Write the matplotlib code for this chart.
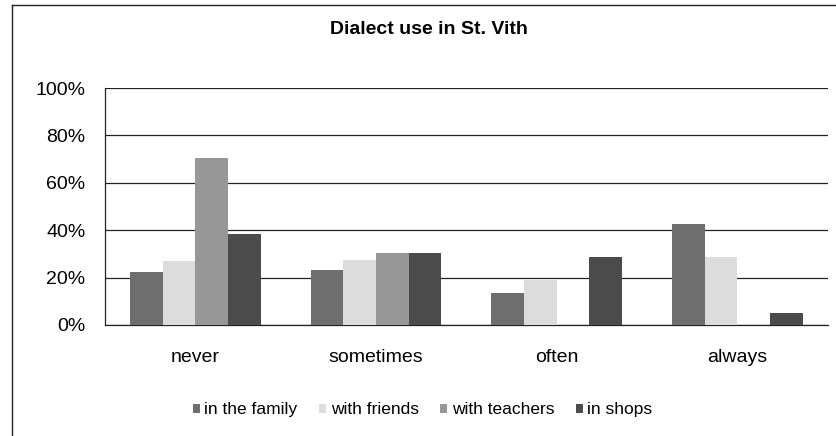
import numpy as np
import matplotlib
matplotlib.use('Agg')
import matplotlib.pyplot as plt
from matplotlib.lines import Line2D

plt.rcParams['font.family'] = ['Liberation Sans', 'DejaVu Sans']

# Values (percent)
categories = ['never', 'sometimes', 'often', 'always']
series_names = ['in the family', 'with friends', 'with teachers', 'in shops']
in_the_family = [22.4, 23.4, 13.6, 42.8]
with_friends = [26.9, 27.3, 18.9, 28.5]
with_teachers = [70.4, 30.2, 0, 0]
in_shops = [38.3, 30.3, 28.5, 4.9]
yticks = [0, 20, 40, 60, 80, 100]
ytick_labels = ['0%', '20%', '40%', '60%', '80%', '100%']

colors = ['#6e6e6e', '#dcdcdc', '#979797', '#4b4b4b']

fig = plt.figure(figsize=(8.37, 4.36), dpi=100)
ax = fig.add_axes([0.1254, 0.2546, 0.989 - 0.1254, 0.798 - 0.2546])

x = np.arange(len(categories))
width = 0.181
all_series = [in_the_family, with_friends, with_teachers, in_shops]
for i, vals in enumerate(all_series):
	ax.bar(x + (i - 1.5) * width, vals, width, color=colors[i], label=series_names[i],
		   zorder=3, edgecolor='none')

ax.set_xlim(-0.5, len(categories) - 0.5)
ax.set_ylim(0, 100)
ax.set_yticks(yticks)
ax.set_yticklabels(ytick_labels, fontsize=14)
ax.set_xticks(x)
ax.set_xticklabels(categories, fontsize=14)
ax.tick_params(axis='y', length=0, pad=14)
ax.tick_params(axis='x', length=0, pad=17)
ax.yaxis.grid(True, color='#222222', linewidth=0.9, zorder=0)
ax.set_axisbelow(True)
for s in ['top', 'right']:
	ax.spines[s].set_visible(False)
ax.spines['left'].set_color('#222222')
ax.spines['bottom'].set_color('#222222')
ax.spines['left'].set_linewidth(0.9)
ax.spines['bottom'].set_linewidth(0.9)

fig.text(0.513, 0.932, 'Dialect use in St. Vith', ha='center', va='center',
		 fontsize=14, fontweight='bold')

handles, labels = ax.get_legend_handles_labels()
fig.legend(handles, labels, loc='center', bbox_to_anchor=(0.505, 0.06), ncol=4,
		   frameon=False, fontsize=12.5, handlelength=0.4, handleheight=0.4,
		   handletextpad=0.25, columnspacing=1.25)

# outer chart frame (cut off at right and bottom)
fig.add_artist(Line2D([0.0143, 0.0143], [0, 0.9885], transform=fig.transFigure,
					  color='#222222', linewidth=1.0))
fig.add_artist(Line2D([0.0143, 1.0], [0.9885, 0.9885], transform=fig.transFigure,
					  color='#222222', linewidth=1.0))

fig.savefig('out.png', dpi=100)
